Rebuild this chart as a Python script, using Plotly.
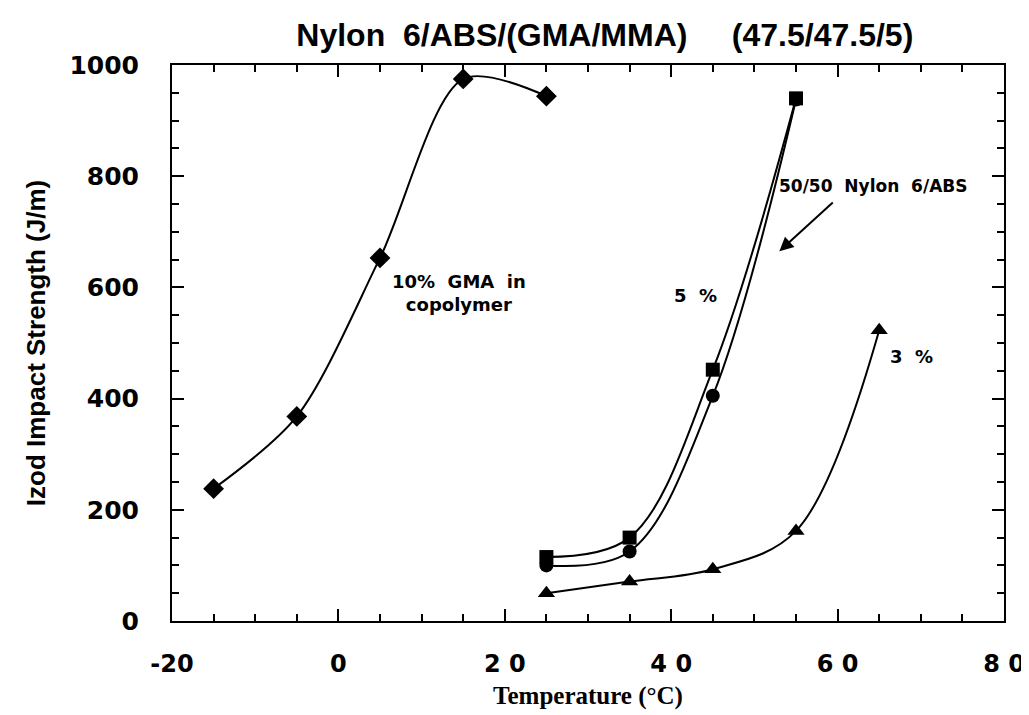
import plotly.graph_objects as go

# ---- data ----
temp_gma10 = [-15, -5, 5, 15, 25]
izod_gma10 = [238, 368, 653, 975, 944]

temp_blend = [25, 35, 45, 55]
izod_blend = [115, 150, 452, 940]      # squares: 50/50 Nylon 6/ABS

temp_gma5 = [25, 35, 45, 55]
izod_gma5 = [100, 125, 405, 938]       # circles: 5 %

temp_gma3 = [25, 35, 45, 55, 65]
izod_gma3 = [50, 71, 93, 162, 523]     # triangles: 3 %

x_tick_vals = [-20, 0, 20, 40, 60, 80]
x_tick_text = ["-20", "0", "2 0", "4 0", "6 0", "8 0"]
y_tick_vals = [0, 200, 400, 600, 800, 1000]
y_tick_text = ["0", "200", "400", "600", "800", "1000"]

def line_style(sm):
    return dict(color="black", width=2, shape="spline", smoothing=sm)

fig = go.Figure()
fig.add_trace(go.Scatter(x=temp_gma10, y=izod_gma10, mode="lines+markers",
                         line=line_style(0.85),
                         marker=dict(symbol="diamond", size=16, color="black")))
fig.add_trace(go.Scatter(x=temp_gma5, y=izod_gma5, mode="lines+markers",
                         line=line_style(1.0),
                         marker=dict(symbol="circle", size=14, color="black")))
fig.add_trace(go.Scatter(x=temp_blend, y=izod_blend, mode="lines+markers",
                         line=line_style(1.0),
                         marker=dict(symbol="square", size=14, color="black")))
fig.add_trace(go.Scatter(x=temp_gma3, y=izod_gma3, mode="lines+markers",
                         line=line_style(1.0),
                         marker=dict(symbol="triangle-up", size=15, color="black")))

ytick_font = dict(family="DejaVu Sans", size=25, color="black", weight="bold")
xtick_font = dict(family="DejaVu Sans", size=24, color="black", weight="bold")
ann_font = dict(family="DejaVu Sans", size=18, color="black", weight="bold")

fig.update_layout(
    width=1029, height=715, autosize=False,
    margin=dict(l=164, r=28, t=57, b=102),
    paper_bgcolor="white", plot_bgcolor="white",
    showlegend=False,
    title=dict(text="Nylon  6/ABS/(GMA/MMA)     (47.5/47.5/5)",
               x=0.58, xanchor="center", y=0.962, yanchor="middle",
               font=dict(family="Liberation Sans Narrow, Liberation Sans", size=32,
                         color="black", weight="bold")),
    xaxis=dict(range=[-20, 80], tickvals=x_tick_vals, ticktext=x_tick_text,
               ticks="inside", ticklen=12, tickwidth=1.5, tickcolor="black",
               showline=True, linecolor="black", linewidth=2, mirror="ticks",
               showgrid=False, zeroline=False, tickfont=xtick_font,
               ticklabelstandoff=20,
               minor=dict(dtick=5, ticks="inside", ticklen=7, tickwidth=1.5,
                          tickcolor="black", showgrid=False),
               title=dict(text="Temperature (°C)", standoff=10,
                          font=dict(family="Liberation Serif", size=25,
                                    color="black", weight="bold"))),
    yaxis=dict(range=[0, 1000], tickvals=y_tick_vals, ticktext=y_tick_text,
               ticks="inside", ticklen=12, tickwidth=1.5, tickcolor="black",
               showline=True, linecolor="black", linewidth=2, mirror="ticks",
               showgrid=False, zeroline=False, tickfont=ytick_font,
               ticklabelstandoff=26,
               minor=dict(dtick=50, ticks="inside", ticklen=7, tickwidth=1.5,
                          tickcolor="black", showgrid=False),
               title=dict(text="Izod Impact Strength (J/m)", standoff=16,
                          font=dict(family="Liberation Sans", size=26,
                                    color="black", weight="bold"))),
)

fig.add_annotation(x=14.5, y=590, text="10%  GMA  in<br>copolymer", showarrow=False,
                   font=ann_font, xanchor="center", yanchor="middle", align="center")
fig.add_annotation(x=42.9, y=585, text="5  %", showarrow=False, font=ann_font,
                   xanchor="center", yanchor="middle")
fig.add_annotation(x=68.9, y=475, text="3  %", showarrow=False, font=ann_font,
                   xanchor="center", yanchor="middle")
fig.add_annotation(x=52.7, y=782, text="50/50  Nylon  6/ABS", showarrow=False,
                   font=dict(family="DejaVu Sans", size=17, color="black", weight="bold"),
                   xanchor="left", yanchor="middle")
fig.add_annotation(x=53.0, y=665, ax=59.6, ay=755, axref="x", ayref="y",
                   showarrow=True, arrowhead=2, arrowsize=1.4, arrowwidth=2,
                   arrowcolor="black", text="")

fig.write_html("out.html")
